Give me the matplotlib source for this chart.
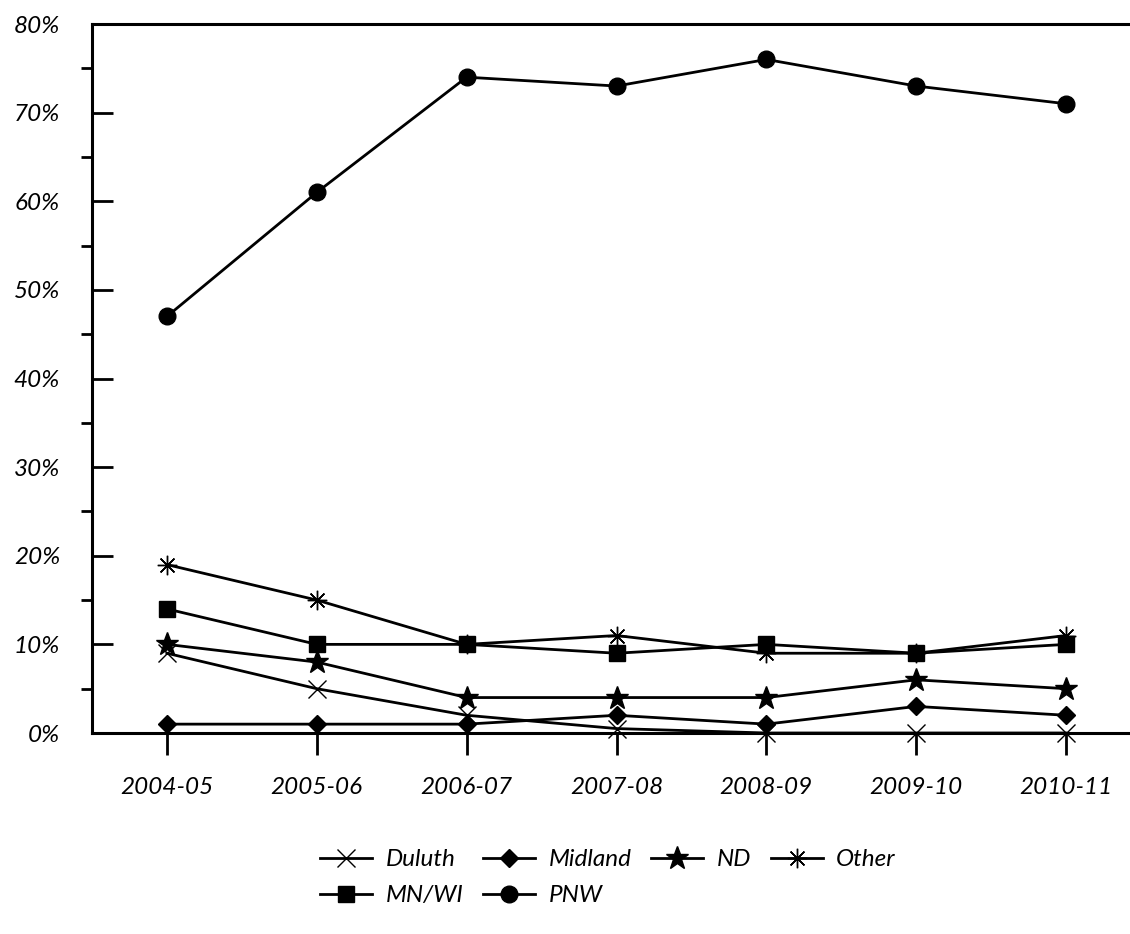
import matplotlib
matplotlib.use("Agg")
import numpy as np
from matplotlib import pyplot as plt
from matplotlib.ticker import MultipleLocator, FuncFormatter

plt.rcParams['font.family'] = ['Lato', 'DejaVu Sans']
plt.rcParams['font.style'] = 'italic'

# データ
years = ["2004-05", "2005-06", "2006-07", "2007-08", "2008-09", "2009-10", "2010-11"]
duluth = [9, 5, 2, 0.5, 0, 0, 0]
midland = [1, 1, 1, 2, 1, 3, 2]
nd = [10, 8, 4, 4, 4, 6, 5]
other = [19, 15, 10, 11, 9, 9, 11]
mnwi = [14, 10, 10, 9, 10, 9, 10]
pnw = [47, 61, 74, 73, 76, 73, 71]

fig = plt.figure(figsize=(11.3, 9.34), dpi=100)
ax = fig.add_axes([92 / 1130, 1 - 733 / 934, (1141 - 92) / 1130, (733 - 24) / 934])

x = np.arange(len(years))
lw = 2.0
h_duluth, = ax.plot(x, duluth, color="black", lw=lw, marker="x", ms=13, mew=1.0, label="Duluth", clip_on=False)
h_midland, = ax.plot(x, midland, color="black", lw=lw, marker="D", ms=9, label="Midland", clip_on=False)
h_nd, = ax.plot(x, nd, color="black", lw=lw, marker="*", ms=17, label="ND", clip_on=False)
h_other, = ax.plot(x, other, color="black", lw=lw, marker=(8, 2, 0), ms=14, mew=1.0, label="Other", clip_on=False)
h_mnwi, = ax.plot(x, mnwi, color="black", lw=lw, marker="s", ms=11, label="MN/WI", clip_on=False)
h_pnw, = ax.plot(x, pnw, color="black", lw=lw, marker="o", ms=12, label="PNW", clip_on=False)

ax.set_xlim(-0.5, 6.5)
ax.set_ylim(0, 80)
ax.set_xticks(x)
ax.set_xticklabels(years)
ax.yaxis.set_major_locator(MultipleLocator(10))
ax.yaxis.set_minor_locator(MultipleLocator(5))
ax.yaxis.set_major_formatter(FuncFormatter(lambda v, p: "%d%%" % v))

for s in ["left", "bottom", "top"]:
    ax.spines[s].set_linewidth(2.2)
ax.spines["right"].set_visible(False)

ax.tick_params(axis="y", which="major", direction="in", length=15, width=2, pad=23, labelsize=17.5)
ax.tick_params(axis="y", which="minor", direction="out", length=8, width=2)
ax.tick_params(axis="x", which="major", direction="out", length=16, width=2, pad=16, labelsize=17.5)

# 凡例
handles = [h_duluth, h_mnwi, h_midland, h_pnw, h_nd, h_other]
fig.legend(handles=handles, labels=[h.get_label() for h in handles], ncol=4,
           loc="upper center", bbox_to_anchor=(0.538, 1 - 837 / 934), frameon=False,
           fontsize=17.5, handlelength=2.15, handletextpad=0.55, columnspacing=0.8,
           labelspacing=0.62, borderpad=0)

fig.savefig("out.png", dpi=100)
